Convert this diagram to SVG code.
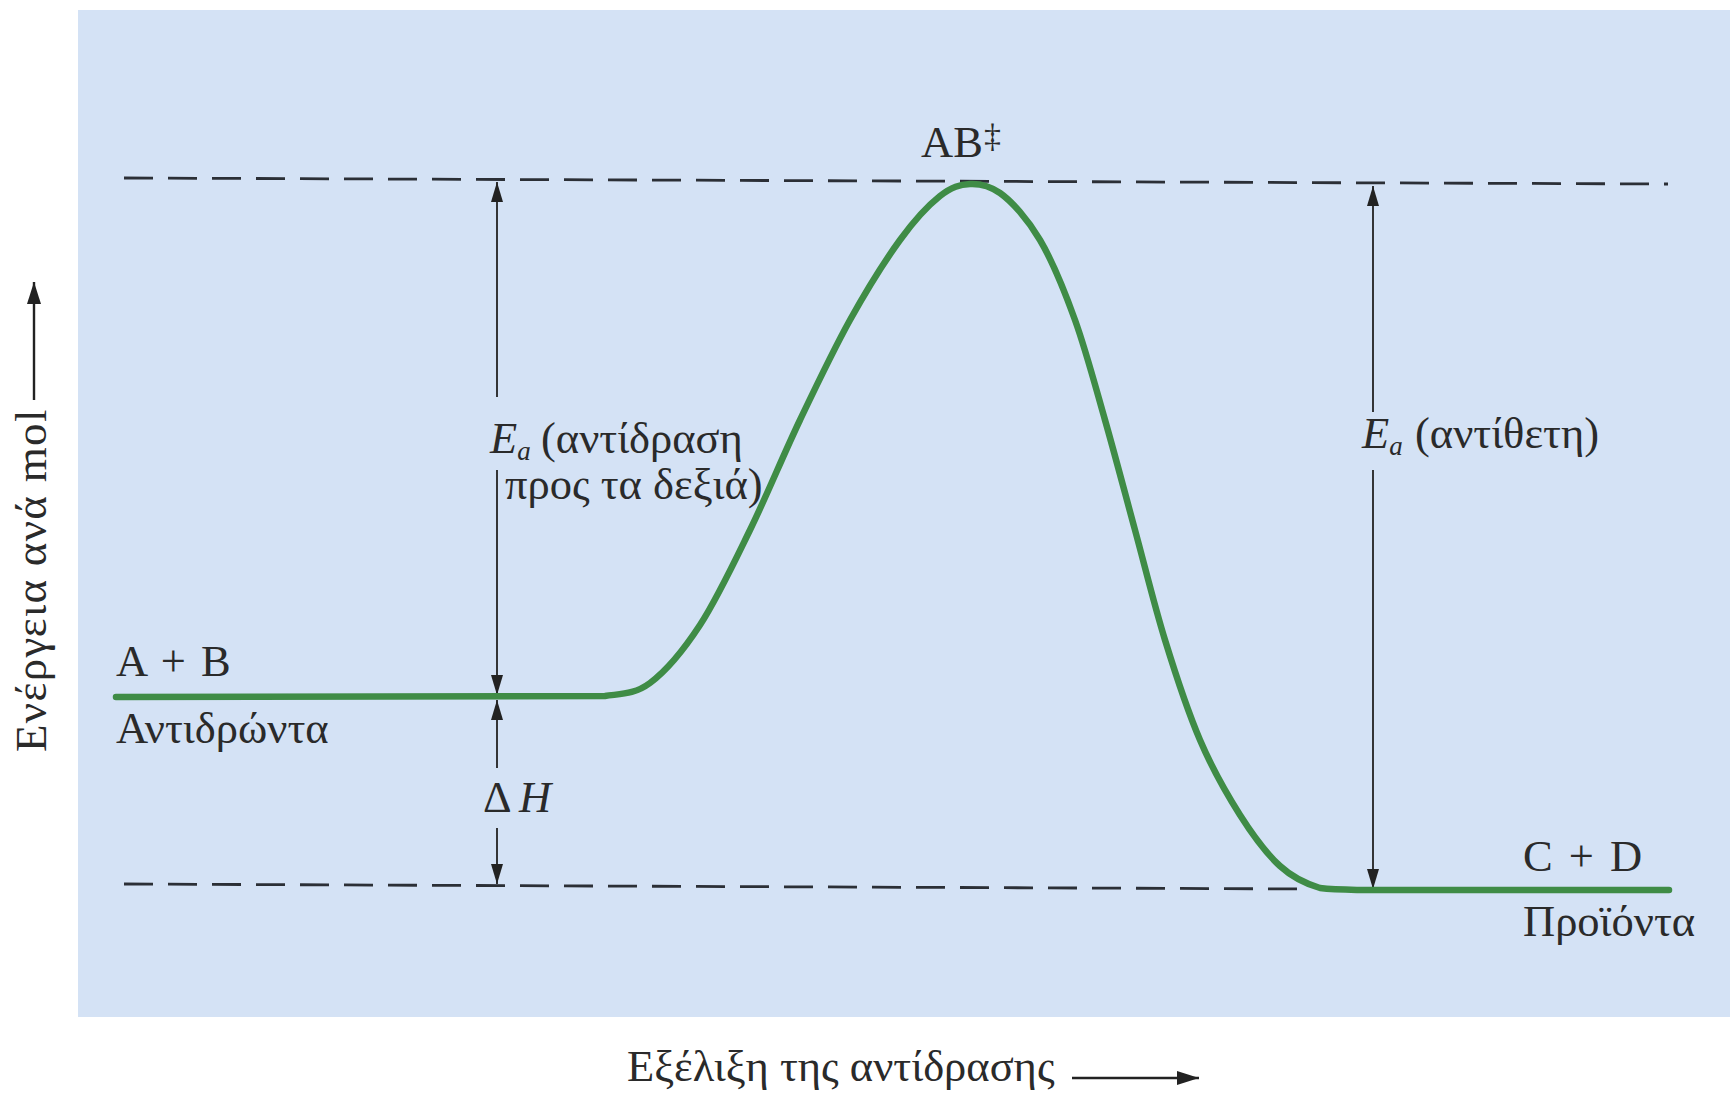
<svg xmlns="http://www.w3.org/2000/svg" width="1733" height="1101" viewBox="0 0 1733 1101">
<style>
.t{font-family:"Liberation Serif","Times New Roman",serif;font-size:44.5px;fill:#2a2a2a}
.i{font-style:italic}
.dash{stroke:#2b2f36;stroke-width:2.8;stroke-dasharray:29 15;fill:none}
.ar{stroke:#222;stroke-width:1.8;fill:none}
.ax{stroke:#222;stroke-width:2.4;fill:none}
</style>
<defs>
<marker id="ah" viewBox="0 0 20 12" refX="20" refY="6" markerWidth="20" markerHeight="12" markerUnits="userSpaceOnUse" orient="auto">
<path d="M0,0 L20,6 L0,12 Z" fill="#222"/>
</marker>
<marker id="ah2" viewBox="0 0 22 14" refX="22" refY="7" markerWidth="22" markerHeight="14" markerUnits="userSpaceOnUse" orient="auto">
<path d="M0,0 L22,7 L0,14 Z" fill="#222"/>
</marker>
</defs>
<rect x="0" y="0" width="1733" height="1101" fill="#ffffff"/>
<rect id="panel" x="78" y="10" width="1652" height="1007" fill="#d4e2f5"/>

<g id="connectors">
<path class="dash" d="M124,178 L1668,184"/>
<path class="dash" d="M124,884 L1310,889"/>
<path class="ar" d="M497,397 L497,182" marker-end="url(#ah)"/>
<path class="ar" d="M497,470 L497,695" marker-end="url(#ah)"/>
<path class="ar" d="M497,768 L497,700" marker-end="url(#ah)"/>
<path class="ar" d="M497,828 L497,884" marker-end="url(#ah)"/>
<path class="ar" d="M1373,412 L1373,186" marker-end="url(#ah)"/>
<path class="ar" d="M1373,470 L1373,889" marker-end="url(#ah)"/>
<path class="ax" d="M34,400 L34,282" marker-end="url(#ah2)"/>
<path class="ax" d="M1072,1078 L1199,1078" marker-end="url(#ah2)"/>
</g>

<g id="curve">
<path d="M116,697 L605,696 C620,693.7 634.2,694.8 650,683 C665.8,671.2 683.3,650.5 700,625 C716.7,599.5 733.3,564.2 750,530 C766.7,495.8 783.3,455 800,420 C816.7,385 833.3,350 850,320 C866.7,290 885,260.7 900,240 C915,219.3 928.3,205.3 940,196 C951.7,186.7 960,184.5 970,184 C980,183.5 990,186 1000,193 C1011.7,201.3 1027.5,218.7 1040,240 C1052.5,261.3 1064.2,290 1075,320 C1085.8,350 1095,385 1105,420 C1115,455 1125,493.3 1135,530 C1145,566.7 1154.2,605 1165,640 C1175.8,675 1187.5,710.8 1200,740 C1212.5,769.2 1226.7,794 1240,815 C1253.3,836 1266.7,853.8 1280,866 C1293.3,878.2 1306.7,884 1320,888 C1333,889.5 1346.7,889.7 1360,890 L1669,890" fill="none" stroke="#3f8c46" stroke-width="6.5" stroke-linecap="round" stroke-linejoin="round"/>
</g>

<g id="node-ts">
<text class="t" x="921" y="157">AB</text>
<text class="t" x="984" y="147" style="font-size:34px">‡</text>
</g>
<g id="node-ea-forward">
<text class="t" x="490" y="453"><tspan class="i">E</tspan><tspan class="i" dy="7" style="font-size:27px">a</tspan><tspan x="541" dy="-7">(αντίδραση</tspan></text>
<text class="t" x="505" y="499">προς τα δεξιά)</text>
</g>
<g id="node-ea-reverse">
<text class="t" x="1362" y="448"><tspan class="i">E</tspan><tspan class="i" dy="7" style="font-size:27px">a</tspan><tspan x="1415" dy="-7">(αντίθετη)</tspan></text>
</g>
<g id="node-reactants">
<text class="t" x="116" y="676" style="word-spacing:4px">A + B</text>
<text class="t" x="116" y="743">Αντιδρώντα</text>
</g>
<g id="node-dh">
<text class="t" x="483" y="812">Δ<tspan class="i" x="519">H</tspan></text>
</g>
<g id="node-products">
<text class="t" x="1523" y="871" style="word-spacing:5px">C + D</text>
<text class="t" x="1523" y="936">Προϊόντα</text>
</g>
<g id="axis-labels">
<text class="t" x="627" y="1081">Εξέλιξη της αντίδρασης</text>
<text class="t" transform="translate(46,752) rotate(-90)" x="0" y="0" style="font-size:45px;letter-spacing:1.3px">Ενέργεια ανά mol</text>
</g>
</svg>
